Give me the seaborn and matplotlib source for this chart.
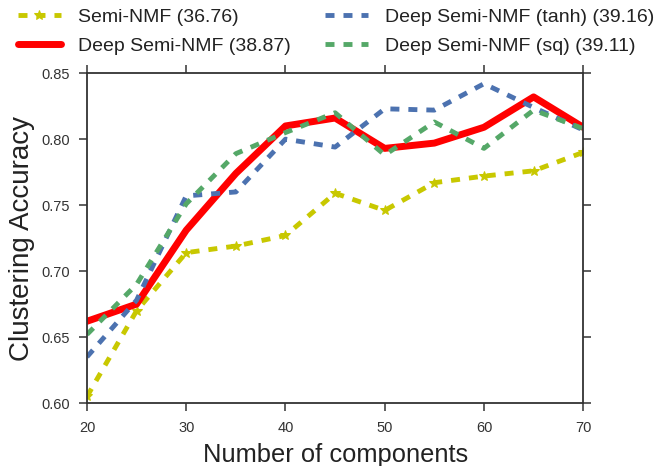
import matplotlib
matplotlib.use("Agg")
import matplotlib.pyplot as plt
import seaborn as sns
import pandas as pd

components = [20, 25, 30, 35, 40, 45, 50, 55, 60, 65, 70]
semi_nmf = [0.605, 0.670, 0.714, 0.719, 0.727, 0.759, 0.746, 0.767, 0.772, 0.776, 0.790]
deep_semi_nmf = [0.662, 0.675, 0.731, 0.774, 0.810, 0.816, 0.793, 0.797, 0.809, 0.832, 0.809]
deep_tanh = [0.635, 0.678, 0.757, 0.760, 0.800, 0.794, 0.823, 0.822, 0.842, 0.824, 0.807]
deep_sq = [0.652, 0.690, 0.751, 0.789, 0.805, 0.820, 0.788, 0.813, 0.793, 0.822, 0.808]

labels = ["Semi-NMF (36.76)", "Deep Semi-NMF (38.87)",
          "Deep Semi-NMF (tanh) (39.16)", "Deep Semi-NMF (sq) (39.11)"]
series = [semi_nmf, deep_semi_nmf, deep_tanh, deep_sq]

sns.set_theme(style="ticks")
plt.rcParams['font.family'] = ['Liberation Sans', 'DejaVu Sans']

fig = plt.figure(figsize=(6.59, 4.66), dpi=100)
ax = fig.add_axes([0.132, 0.135, 0.753, 0.708])

dash = (0, (1.85, 1.85))
styles = [
    dict(color="#C8C800", lw=3.5, ls=dash, marker="*", ms=7),
    dict(color="#FF0000", lw=5, ls="-"),
    dict(color="#4C72B0", lw=3.5, ls=dash),
    dict(color="#55A868", lw=3.5, ls=dash),
]

for vals, lab, st in zip(series, labels, styles):
    df = pd.DataFrame({"x": components, "y": vals})
    sns.lineplot(data=df, x="x", y="y", ax=ax, label=lab,
                 color=st["color"], linewidth=st["lw"], linestyle=st["ls"],
                 marker=st.get("marker"), markersize=st.get("ms", 0),
                 markeredgecolor=st["color"])

ax.set_xlim(20, 70)
ax.set_ylim(0.60, 0.85)
ax.set_xticks([20, 30, 40, 50, 60, 70])
ax.set_yticks([0.60, 0.65, 0.70, 0.75, 0.80, 0.85])
ax.set_yticklabels(["0.60", "0.65", "0.70", "0.75", "0.80", "0.85"])
ax.tick_params(axis="both", which="both", direction="out", length=6, width=1.1,
               labelsize=10.5, labelcolor="#333333", color="#333333",
               top=True, right=True)
ax.tick_params(axis="x", pad=7)
ax.tick_params(axis="y", pad=6)
for sp in ax.spines.values():
    sp.set_visible(True)
    sp.set_color("#333333")
    sp.set_linewidth(1.3)
ax.set_xlabel("Number of components", fontsize=18.4, color="#222222", labelpad=6)
ax.set_ylabel("Clustering Accuracy", fontsize=20, color="#222222")
ax.yaxis.set_label_coords(-0.105, 0.5)

ax.get_legend().remove()
handles, labs = ax.get_legend_handles_labels()
leg = fig.legend(handles, labs, loc="upper left", bbox_to_anchor=(0.027, 0.982),
                 ncol=2, frameon=False, fontsize=14.0, handlelength=2.2,
                 handletextpad=0.9, columnspacing=1.75, labelspacing=0.6,
                 borderpad=0, borderaxespad=0)
for t in leg.get_texts():
    t.set_color("#222222")

fig.savefig("out.png", dpi=100)
